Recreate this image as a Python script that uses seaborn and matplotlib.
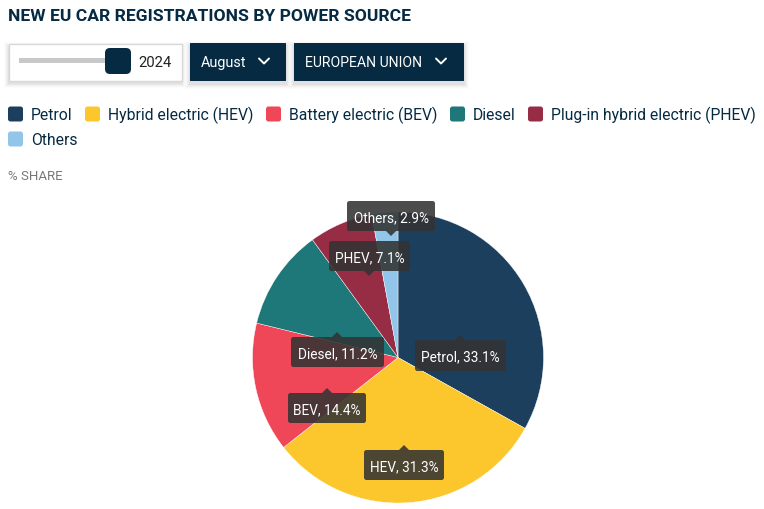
import matplotlib
matplotlib.use("Agg")
import matplotlib.pyplot as plt
import seaborn as sns
from matplotlib.patches import FancyBboxPatch, Polygon, Rectangle

# data
labels = ["Petrol", "Hybrid electric (HEV)", "Battery electric (BEV)", "Diesel",
          "Plug-in hybrid electric (PHEV)", "Others"]
short_labels = ["Petrol", "HEV", "BEV", "Diesel", "PHEV", "Others"]
shares = [33.1, 31.3, 14.4, 11.2, 7.1, 2.9]
colors = ["#1c3f5e", "#fcc62d", "#ef4758", "#1e7778", "#962d44", "#92c5ea"]

sns.set_theme(style="white")
plt.rcParams["font.family"] = ["Roboto", "DejaVu Sans"]

NAVY = "#052a42"
W, H = 764, 510
fig = plt.figure(figsize=(W / 100, H / 100), dpi=100, facecolor="white")

# pixel canvas for the page furniture
bg = fig.add_axes([0, 0, 1, 1])
bg.set_xlim(0, W)
bg.set_ylim(H, 0)
bg.axis("off")


def box(ax, x0, y0, x1, y1, color, rad=1.5, **kw):
    p = FancyBboxPatch((x0 + rad, y0 + rad), x1 - x0 - 2 * rad, y1 - y0 - 2 * rad,
                       boxstyle=f"round,pad={rad},rounding_size={rad}",
                       fc=color, ec=kw.pop("ec", "none"), lw=kw.pop("lw", 0), **kw)
    ax.add_patch(p)


def shadow(ax, x0, y0, x1, y1):
    for grow, a in [(5, 0.012), (4, 0.018), (3, 0.025), (2, 0.03), (1, 0.035)]:
        ax.add_patch(Rectangle((x0 - grow, y0 - grow + 3), x1 - x0 + 2 * grow,
                               y1 - y0 + 2 * grow, fc="black", ec="none", alpha=a))


def chevron(ax, x, y):
    ax.plot([x - 5, x, x + 5], [y - 2.5, y + 2.5, y - 2.5], color="white", lw=1.4,
            solid_capstyle="round", solid_joinstyle="round")


bg.text(8, 16.5, "NEW EU CAR REGISTRATIONS BY POWER SOURCE", fontsize=12.6, fontweight="bold",
        color=NAVY, va="center", ha="left")

# slider
shadow(bg, 9, 45, 181, 81)
bg.add_patch(Rectangle((8.5, 44.5), 173, 37, fc="white", ec="#d8d8d8", lw=1))
bg.add_patch(Rectangle((19, 59), 92, 5, fc="#c8c8c8", ec="none"))
box(bg, 105, 49, 131, 75, NAVY, rad=5)
bg.text(155, 63, "2024", fontsize=10.7, color="#222222", va="center", ha="center")

# dropdowns
shadow(bg, 190, 44, 286, 82)
box(bg, 190, 44, 286, 82, NAVY, rad=0.5)
bg.text(201, 63, "August", fontsize=10.4, color="white", va="center", ha="left")
chevron(bg, 264, 62)
shadow(bg, 294, 44, 464, 82)
box(bg, 294, 44, 464, 82, NAVY, rad=0.5)
bg.text(305, 63, "EUROPEAN UNION", fontsize=10.1, color="white", va="center", ha="left")
chevron(bg, 441, 62)

# legend, laid out like the html one
legend_xy = [(8, 115), (85, 115), (266, 115), (450, 115), (528, 115), (8, 140)]
for name, c, (x, y) in zip(labels, sns.color_palette(colors), legend_xy):
    box(bg, x, y - 7.5, x + 15, y + 7.5, c, rad=2.5)
    bg.text(x + 23, y + 0.5, name, fontsize=11.3, color=NAVY, va="center", ha="left")

bg.text(8, 176.5, "% SHARE", fontsize=9.5, color="#777777", va="center", ha="left")

# pie, centre (398, 358), radius 145 px
cx, cy, r = 398, 358.5, 145.5
pie_ax = fig.add_axes([(cx - r) / W, 1 - (cy + r) / H, 2 * r / W, 2 * r / H])
pie_ax.pie(shares, colors=sns.color_palette(colors), startangle=90, counterclock=False,
           radius=1, wedgeprops={"linewidth": 0.3, "edgecolor": "white"})
pie_ax.set_xlim(-1, 1)
pie_ax.set_ylim(-1, 1)

# tooltips go above the pie
top = fig.add_axes([0, 0, 1, 1])
top.set_xlim(0, W)
top.set_ylim(H, 0)
top.axis("off")
top.patch.set_alpha(0)

# x0, y0, x1, y1, pointer x, pointer direction
tips = [(415, 341, 506, 372, 460, -1), (364, 451, 444, 481, 404, -1),
        (288, 394, 366, 424, 327, -1), (291, 338, 384, 368, 337, -1),
        (329, 242, 410, 272, 369, 1), (347, 202, 435, 232, 391, 1)]
TIP = "#333333"
for name, val, (x0, y0, x1, y1, px, d) in zip(short_labels, shares, tips):
    box(top, x0, y0, x1, y1, TIP, rad=2.5, alpha=0.88)
    base = y1 if d > 0 else y0
    top.add_patch(Polygon([(px - 5, base), (px + 5, base), (px, base + 5 * d)],
                          fc=TIP, ec="none", alpha=0.88))
    top.text((x0 + x1) / 2, (y0 + y1) / 2 + 1, f"{name}, {val}%", fontsize=9.8,
             color="white", va="center", ha="center")

fig.savefig("out.png", dpi=100)
